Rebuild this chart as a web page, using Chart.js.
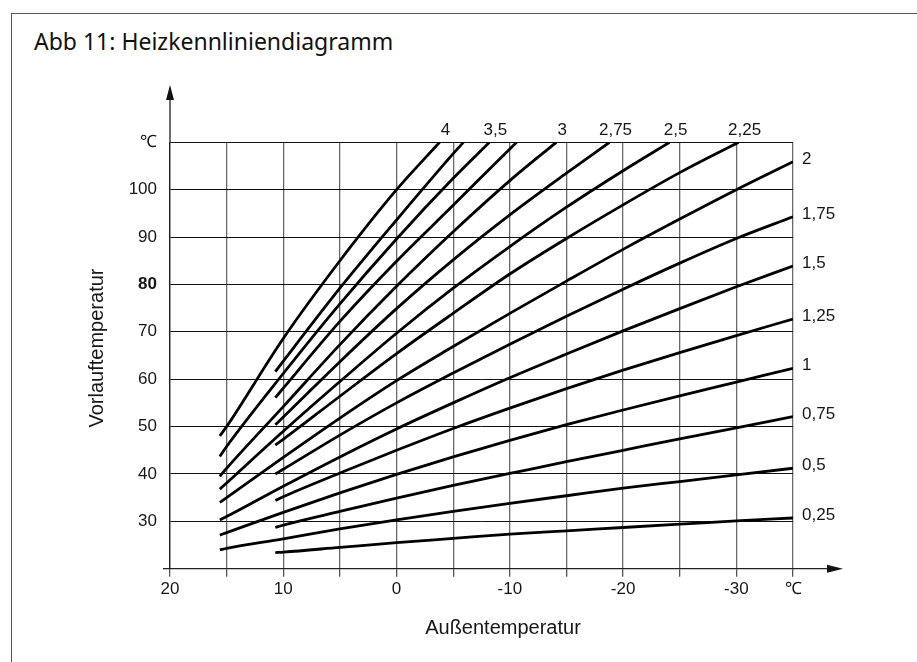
<!DOCTYPE html>
<html lang="de">
<head>
<meta charset="utf-8">
<title>Heizkennliniendiagramm</title>
<script src="https://cdn.jsdelivr.net/npm/chart.js@4.4.1/dist/chart.umd.min.js"></script>
<style>
  html, body { margin: 0; padding: 0; background: #fff; width: 917px; height: 662px; overflow: hidden; }
  #rahmen { position: absolute; left: 11px; top: 13px; width: 1000px; height: 1000px;
            border-left: 1.5px solid #555; border-top: 1.5px solid #555; }
  #titel { position: absolute; left: 34px; top: 29.6px; font-family: 'Noto Sans', sans-serif;
           font-size: 23px; line-height: 23px; color: #111; white-space: nowrap; }
  #diagramm { position: absolute; left: 0; top: 0; }
</style>
</head>
<body>
<div id="rahmen"></div>
<div id="titel">Abb 11: Heizkennliniendiagramm</div>
<canvas id="diagramm" width="917" height="662"></canvas>
<script>
// Heizkennlinien: Paare [Außentemperatur °C, Vorlauftemperatur °C]
const steigungen = [4, 3.75, 3.5, 3.25, 3, 2.75, 2.5, 2.25, 2, 1.75, 1.5, 1.25, 1, 0.75, 0.5, 0.25];
const kurvenText = ['4', '', '3,5', '', '3', '2,75', '2,5', '2,25', '2', '1,75', '1,5', '1,25', '1', '0,75', '0,5', '0,25'];

const kennlinie_4_00 = [[15.6, 48.0], [15, 50.0], [10, 68.6], [5, 85.0], [0, 100.0], [-3.8, 110]];
const kennlinie_3_75 = [[10.7, 61.6], [10, 63.8], [5, 79.2], [0, 93.6], [-5, 107.6], [-5.9, 110]];
const kennlinie_3_50 = [[15.6, 43.7], [15, 45.8], [10, 61.2], [5, 75.9], [0, 89.6], [-5, 102.4], [-8.2, 110]];
const kennlinie_3_25 = [[10.7, 56.1], [10, 58.1], [5, 72.2], [0, 84.9], [-5, 96.7], [-10, 108.6], [-10.6, 110]];
const kennlinie_3_00 = [[15.6, 39.5], [15, 41.2], [10, 54.2], [5, 67.3], [0, 79.6], [-5, 91.1], [-10, 101.9], [-14.1, 110]];
const kennlinie_2_75 = [[10.7, 50.4], [10, 52.0], [5, 63.7], [0, 74.9], [-5, 85.2], [-10, 94.7], [-15, 103.5], [-18.8, 110]];
const kennlinie_2_50 = [[15.6, 36.8], [15, 38.1], [10, 49.0], [5, 59.5], [0, 69.7], [-5, 79.2], [-10, 88.0], [-15, 96.3], [-20, 104.0], [-24.1, 110]];
const kennlinie_2_25 = [[10.7, 46.1], [10, 47.3], [5, 56.4], [0, 65.4], [-5, 73.9], [-10, 82.2], [-15, 89.7], [-20, 96.8], [-25, 103.6], [-30.2, 110]];
const kennlinie_2_00 = [[15.6, 34.0], [15, 35.0], [10, 43.5], [5, 51.8], [0, 59.7], [-5, 66.9], [-10, 73.9], [-15, 80.7], [-20, 87.4], [-25, 93.8], [-30, 100.0], [-35, 105.9]];
const kennlinie_1_75 = [[10.7, 40.0], [10, 41.0], [5, 48.2], [0, 55.0], [-5, 61.3], [-10, 67.4], [-15, 73.3], [-20, 79.0], [-25, 84.5], [-30, 89.7], [-35, 94.3]];
const kennlinie_1_50 = [[15.6, 30.3], [15, 31.0], [10, 37.4], [5, 43.6], [0, 49.5], [-5, 55.0], [-10, 60.3], [-15, 65.3], [-20, 70.2], [-25, 74.9], [-30, 79.5], [-35, 83.9]];
const kennlinie_1_25 = [[10.7, 34.4], [10, 35.2], [5, 40.2], [0, 45.0], [-5, 49.6], [-10, 53.9], [-15, 58.0], [-20, 61.9], [-25, 65.6], [-30, 69.2], [-35, 72.7]];
const kennlinie_1_00 = [[15.6, 27.1], [15, 27.6], [10, 31.9], [5, 36.0], [0, 39.9], [-5, 43.6], [-10, 47.1], [-15, 50.4], [-20, 53.5], [-25, 56.5], [-30, 59.4], [-35, 62.3]];
const kennlinie_0_75 = [[10.7, 28.7], [10, 29.2], [5, 32.1], [0, 34.9], [-5, 37.6], [-10, 40.1], [-15, 42.6], [-20, 45.0], [-25, 47.4], [-30, 49.7], [-35, 52.1]];
const kennlinie_0_50 = [[15.6, 24.0], [15, 24.3], [10, 26.3], [5, 28.4], [0, 30.3], [-5, 32.1], [-10, 33.8], [-15, 35.4], [-20, 37.0], [-25, 38.4], [-30, 39.8], [-35, 41.2]];
const kennlinie_0_25 = [[10.7, 23.4], [10, 23.5], [5, 24.5], [0, 25.5], [-5, 26.4], [-10, 27.3], [-15, 28.0], [-20, 28.7], [-25, 29.4], [-30, 30.1], [-35, 30.7]];

const kennlinien = [kennlinie_4_00, kennlinie_3_75, kennlinie_3_50, kennlinie_3_25, kennlinie_3_00,
  kennlinie_2_75, kennlinie_2_50, kennlinie_2_25, kennlinie_2_00, kennlinie_1_75, kennlinie_1_50,
  kennlinie_1_25, kennlinie_1_00, kennlinie_0_75, kennlinie_0_50, kennlinie_0_25];

// Achsenbeschriftungen
const xTickWerte = [20, 10, 0, -10, -20, -30, -35];
const xTickTexte = ['20', '10', '0', '-10', '-20', '-30', '℃'];
const yTickWerte = [30, 40, 50, 60, 70, 80, 90, 100, 110];
const yTickTexte = ['30', '40', '50', '60', '70', '80', '90', '100', '℃'];
const xTitel = 'Außentemperatur';
const yTitel = 'Vorlauftemperatur';

const SCHRIFT = "'Liberation Sans', Arial, sans-serif";
const TEXTFARBE = '#161616';

const datasets = kennlinien.map((punkte, i) => ({
  label: String(steigungen[i]).replace('.', ','),
  data: punkte.map(([x, y]) => ({ x, y })),
  showLine: true,
  borderColor: '#000',
  borderWidth: 2.8,
  borderCapStyle: 'butt',
  pointRadius: 0,
  pointHoverRadius: 0,
  fill: false,
  cubicInterpolationMode: 'monotone'
}));

// Pfeile, Achsentitel und Kurvenbeschriftungen
const zusatz = {
  id: 'zusatz',
  afterDraw(chart) {
    const { ctx, chartArea: a, scales: { x, y } } = chart;
    const x0 = x.getPixelForValue(20);
    const y0 = y.getPixelForValue(20);
    ctx.save();

    // Achsenverlängerungen
    ctx.strokeStyle = '#222';
    ctx.lineWidth = 1.3;
    ctx.beginPath();
    ctx.moveTo(x0, a.top); ctx.lineTo(x0, 97);
    ctx.moveTo(x0 - 7, y0); ctx.lineTo(x0, y0);
    ctx.moveTo(a.right, y0); ctx.lineTo(829, y0);
    ctx.stroke();

    // Pfeilspitzen
    ctx.fillStyle = '#111';
    ctx.beginPath();
    ctx.moveTo(x0, 85); ctx.lineTo(x0 - 4, 100); ctx.lineTo(x0 + 4, 100); ctx.closePath();
    ctx.fill();
    ctx.beginPath();
    ctx.moveTo(843, y0); ctx.lineTo(827, y0 - 4); ctx.lineTo(827, y0 + 4); ctx.closePath();
    ctx.fill();

    // Achsentitel
    ctx.fillStyle = TEXTFARBE;
    ctx.font = '20px ' + SCHRIFT;
    ctx.textAlign = 'center';
    ctx.textBaseline = 'alphabetic';
    ctx.fillText(xTitel, 503, 634);
    ctx.save();
    ctx.translate(103, 348);
    ctx.rotate(-Math.PI / 2);
    ctx.fillText(yTitel, 0, 0);
    ctx.restore();

    // Kurvenbeschriftungen an den Kurvenenden
    ctx.font = '17px ' + SCHRIFT;
    ctx.textBaseline = 'middle';
    kennlinien.forEach((punkte, i) => {
      const text = kurvenText[i];
      if (!text) return;
      const [ex, ey] = punkte[punkte.length - 1];
      if (ey >= 110) {
        ctx.textAlign = 'center';
        ctx.fillText(text, x.getPixelForValue(ex) + 6, a.top - 12);
      } else {
        ctx.textAlign = 'left';
        ctx.fillText(text, a.right + 9, y.getPixelForValue(ey) - 2.5);
      }
    });
    ctx.restore();
  }
};

new Chart(document.getElementById('diagramm'), {
  type: 'scatter',
  data: { datasets },
  plugins: [zusatz],
  options: {
    responsive: false,
    animation: false,
    devicePixelRatio: 1,
    layout: { padding: { left: 0, top: 142.3, right: 124, bottom: 0 } },
    plugins: { legend: { display: false }, tooltip: { enabled: false } },
    events: [],
    scales: {
      x: {
        type: 'linear',
        reverse: true,
        min: -35,
        max: 20,
        afterFit: (s) => { s.height = 93.3; },
        afterBuildTicks: (s) => {
          s.ticks = [20, 15, 10, 5, 0, -5, -10, -15, -20, -25, -30, -35].map(v => ({ value: v }));
        },
        ticks: {
          autoSkip: false,
          maxRotation: 0,
          padding: 2,
          color: TEXTFARBE,
          font: { family: SCHRIFT, size: 17 },
          callback: (v) => {
            const i = xTickWerte.indexOf(v);
            return i >= 0 ? xTickTexte[i] : '';
          }
        },
        grid: { color: '#6a6a6a', lineWidth: 1.3, drawTicks: true, tickLength: 8, tickColor: '#555', tickWidth: 1.3 },
        border: { display: true, color: '#222', width: 1.3 }
      },
      y: {
        type: 'linear',
        min: 20,
        max: 110,
        afterFit: (s) => { s.width = 170; },
        ticks: {
          stepSize: 10,
          autoSkip: false,
          padding: 13,
          color: TEXTFARBE,
          font: (c) => ({ family: SCHRIFT, size: 17, weight: (c.tick && c.tick.value === 80) ? 'bold' : 'normal' }),
          callback: (v) => {
            const i = yTickWerte.indexOf(v);
            return i >= 0 ? yTickTexte[i] : '';
          }
        },
        grid: { color: '#111', lineWidth: 1, drawTicks: false },
        border: { display: true, color: '#222', width: 1.3 }
      }
    }
  }
});
</script>
</body>
</html>
